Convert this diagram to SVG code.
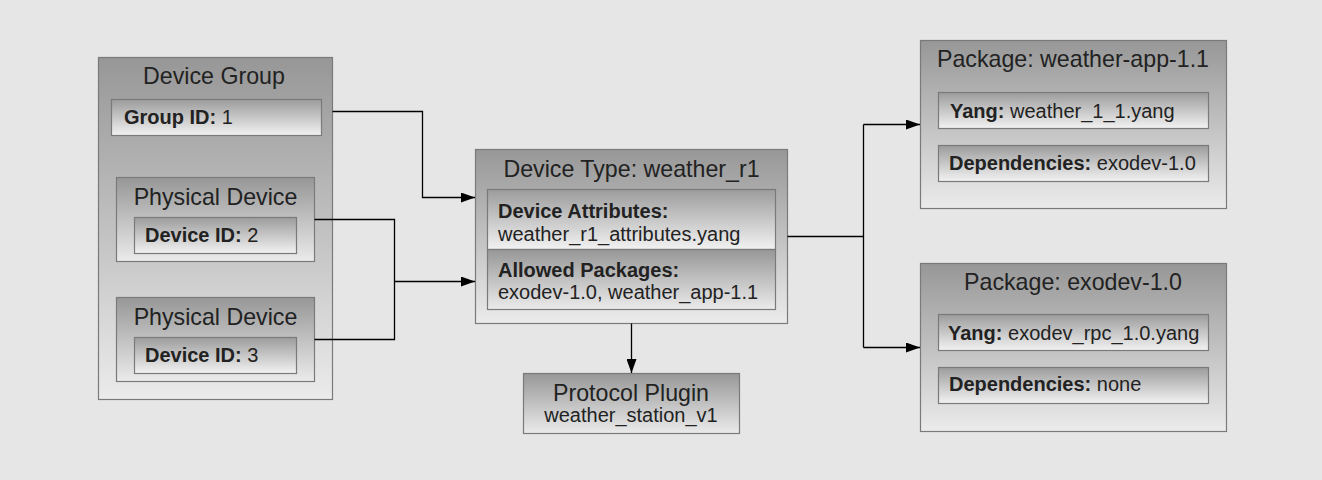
<svg xmlns="http://www.w3.org/2000/svg" width="1322" height="480" viewBox="0 0 1322 480">
<defs>
<linearGradient id="g" x1="0" y1="0" x2="0" y2="1">
<stop offset="0" stop-color="#979797"/>
<stop offset="1" stop-color="#ebebeb"/>
</linearGradient>
<linearGradient id="gi" x1="0" y1="0" x2="0" y2="1">
<stop offset="0" stop-color="#9c9c9c"/>
<stop offset="1" stop-color="#f2f2f2"/>
</linearGradient>
<marker id="arr" viewBox="0 0 14 10" refX="14" refY="5" markerWidth="14" markerHeight="10" markerUnits="userSpaceOnUse" orient="auto">
<path d="M0,0 L14,5 L0,10 Z" fill="#000"/>
</marker>
<style>
.box{fill:url(#g);stroke:#7a7a7a;stroke-width:1.2}
.inner{fill:url(#gi);stroke:#7a7a7a;stroke-width:1.2}
.t{font-family:"Liberation Sans",Arial,sans-serif;font-size:23.2px;fill:#222;text-anchor:middle}
.l{font-family:"Liberation Sans",Arial,sans-serif;font-size:20px;fill:#222}
.b{font-weight:bold}
.c{text-anchor:middle}
.edge{fill:none;stroke:#000;stroke-width:1.3}
</style>
</defs>
<rect width="1322" height="480" fill="#e6e6e6"/>

<g id="device-group">
<rect class="box" x="98.5" y="57.5" width="234" height="342"/>
<text class="t" x="214" y="83.5">Device Group</text>
<g id="group-id">
<rect class="inner" x="111.5" y="99.5" width="210" height="36"/>
<text class="l" x="124" y="124.3"><tspan class="b">Group ID:</tspan> 1</text>
</g>
</g>

<g id="physical-device-2">
<rect class="box" x="116.5" y="177.5" width="198" height="84"/>
<text class="t" x="215.5" y="205">Physical Device</text>
<rect class="inner" x="134.5" y="217.5" width="162" height="36"/>
<text class="l" x="145" y="241.7"><tspan class="b">Device ID:</tspan> 2</text>
</g>

<g id="physical-device-3">
<rect class="box" x="116.5" y="297.5" width="198" height="84"/>
<text class="t" x="215.5" y="325">Physical Device</text>
<rect class="inner" x="134.5" y="337.5" width="162" height="36"/>
<text class="l" x="145" y="361.7"><tspan class="b">Device ID:</tspan> 3</text>
</g>

<g id="device-type">
<rect class="box" x="475.5" y="149.5" width="312" height="174"/>
<text class="t" x="631.5" y="176.7">Device Type: weather_r1</text>
<rect class="inner" x="487.5" y="189.5" width="288" height="60"/>
<text class="l b" x="498" y="218.3">Device Attributes:</text>
<text class="l" x="498" y="240.7">weather_r1_attributes.yang</text>
<rect class="box" x="487.5" y="249.5" width="288" height="60"/>
<text class="l b" x="498" y="276.7">Allowed Packages:</text>
<text class="l" x="498" y="299">exodev-1.0, weather_app-1.1</text>
</g>

<g id="protocol-plugin">
<rect class="box" x="523.5" y="373.5" width="216" height="60"/>
<text class="t" x="631" y="400.5">Protocol Plugin</text>
<text class="l c" x="631" y="421.7">weather_station_v1</text>
</g>

<g id="package-weather-app">
<rect class="box" x="920.5" y="40.5" width="306" height="168"/>
<text class="t" x="1073" y="67.3">Package: weather-app-1.1</text>
<rect class="inner" x="938.5" y="92.5" width="270" height="36"/>
<text class="l" x="950" y="117.7"><tspan class="b">Yang:</tspan> weather_1_1.yang</text>
<rect class="inner" x="938.5" y="145.5" width="270" height="36"/>
<text class="l" x="949" y="170"><tspan class="b">Dependencies:</tspan> exodev-1.0</text>
</g>

<g id="package-exodev">
<rect class="box" x="920.5" y="263.5" width="306" height="168"/>
<text class="t" x="1073" y="290.3">Package: exodev-1.0</text>
<rect class="inner" x="938.5" y="314.5" width="270" height="36"/>
<text class="l" x="948" y="340.3"><tspan class="b">Yang:</tspan> exodev_rpc_1.0.yang</text>
<rect class="inner" x="938.5" y="367.5" width="270" height="36"/>
<text class="l" x="949" y="391.3"><tspan class="b">Dependencies:</tspan> none</text>
</g>

<g id="connectors">
<path class="edge" d="M332.5,111.5 H422.5 V197.5 H475" marker-end="url(#arr)"/>
<path class="edge" d="M314.5,219.5 H394.5 V339.5 H314.5"/>
<path class="edge" d="M394.5,281.5 H475" marker-end="url(#arr)"/>
<path class="edge" d="M787.5,236.5 H863.5"/>
<path class="edge" d="M863.5,124.5 V347.5"/>
<path class="edge" d="M863.5,124.5 H920" marker-end="url(#arr)"/>
<path class="edge" d="M863.5,347.5 H920" marker-end="url(#arr)"/>
<path class="edge" d="M631.5,323.5 V373" marker-end="url(#arr)"/>
</g>
</svg>
